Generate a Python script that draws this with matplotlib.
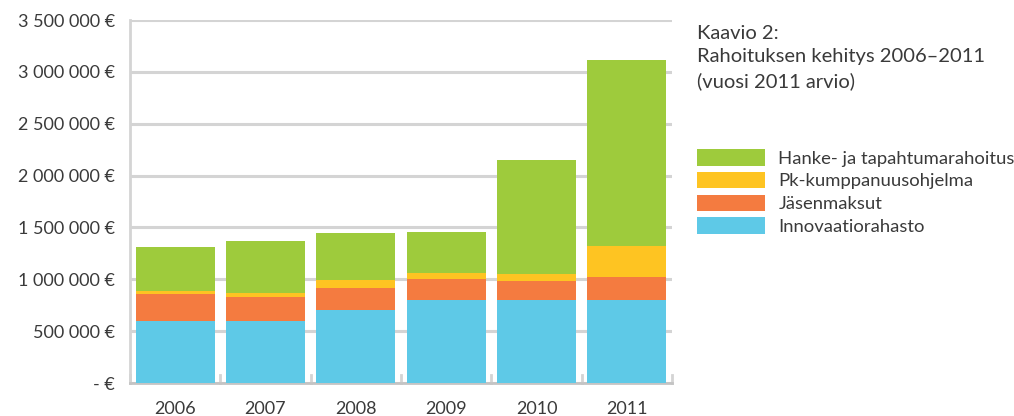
import matplotlib
matplotlib.use("Agg")
import matplotlib.pyplot as plt
import numpy as np

years = ["2006", "2007", "2008", "2009", "2010", "2011"]
innovaatio = [600000, 600000, 700000, 800000, 800000, 800000]
jasen = [260000, 230000, 218000, 200000, 185000, 222000]
pk = [30000, 38000, 76000, 60000, 67000, 298000]
hanke = [420000, 500000, 452000, 395000, 1096000, 1798000]
series_names = ["Innovaatiorahasto", "Jäsenmaksut", "Pk-kumppanuusohjelma", "Hanke- ja tapahtumarahoitus"]
colors = ["#5ec9e7", "#f47b40", "#fec422", "#9ecb3c"]
yticks = [0, 500000, 1000000, 1500000, 2000000, 2500000, 3000000, 3500000]

plt.rcParams['font.family'] = ['Lato', 'DejaVu Sans']
txt = "#3a3a3a"

fig = plt.figure(figsize=(10.14, 4.16), dpi=100)
ax = fig.add_axes([130/1014, 1-383/416, (672-130)/1014, (383-20)/416])

x = np.arange(len(years))
bottom = np.zeros(len(years))
handles = []
for vals, name, c in zip([innovaatio, jasen, pk, hanke], series_names, colors):
    b = ax.bar(x, vals, bottom=bottom, width=0.875, color=c, label=name, zorder=3)
    handles.append(b)
    bottom += np.array(vals)

ax.set_xlim(-0.5, len(years) - 0.5)
ax.set_ylim(0, 3500000)
ax.set_yticks(yticks)
def fmt(v):
    if v == 0:
        return "- €"
    return f"{v:,}".replace(",", " ") + " €"
ax.set_yticklabels([fmt(v) for v in yticks])
ax.set_xticks(x)
ax.set_xticklabels(years)
ax.tick_params(axis='both', length=0, labelsize=13, colors=txt, pad=11)
ax.tick_params(axis='x', pad=13)
ax.grid(axis='y', color='#d4d4d4', linewidth=2.2, zorder=0)
ax.set_axisbelow(True)
for s in ['top', 'right']:
    ax.spines[s].set_visible(False)
ax.spines['left'].set_color('#d4d4d4')
ax.spines['left'].set_linewidth(2)
ax.spines['bottom'].set_color('#c4c4c4')
ax.spines['bottom'].set_linewidth(2)
# category boundary ticks
for b in np.arange(-0.5, len(years), 1.0):
    ax.plot([b, b], [0, 80000], color='#d4d4d4', linewidth=2, zorder=2, clip_on=False)

fig.text(697/1014, 1-25/416, "Kaavio 2:\nRahoituksen kehitys 2006–2011\n(vuosi 2011 arvio)",
         ha='left', va='top', fontsize=14.5, color=txt, linespacing=1.45)

fig.legend(handles[::-1], series_names[::-1], loc='upper left',
           bbox_to_anchor=(697/1014, 1-149/416), frameon=False, fontsize=13.3,
           handlelength=3.7, handleheight=1.0, handletextpad=0.7,
           labelspacing=0.28, borderpad=0, borderaxespad=0, labelcolor=txt)

fig.savefig("out.png", dpi=100)
